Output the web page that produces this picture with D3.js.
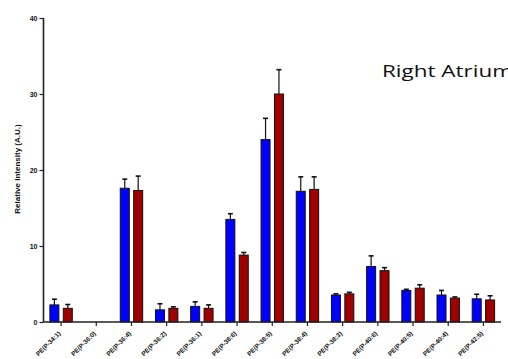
<!DOCTYPE html>
<html>
<head>
<meta charset="utf-8">
<script src="https://cdn.jsdelivr.net/npm/d3@7"></script>
<style>
html,body{margin:0;padding:0;background:#fff;}
svg{display:block;}
</style>
</head>
<body>
<svg id="chart" width="508" height="359"></svg>
<script>
const categories = ["PE(P-34:1)","PE(P-36:0)","PE(P-36:4)","PE(P-36:2)","PE(P-36:1)","PE(P-38:6)","PE(P-38:5)","PE(P-38:4)","PE(P-38:3)","PE(P-40:6)","PE(P-40:5)","PE(P-40:4)","PE(P-42:5)"];
const blueValues = [2.25, 0, 17.6, 1.6, 2.05, 13.5, 24.0, 17.2, 3.55, 7.3, 4.15, 3.55, 3.05];
const blueErrors = [0.75, 0, 1.2, 0.8, 0.6, 0.75, 2.8, 1.9, 0.15, 1.4, 0.15, 0.6, 0.6];
const redValues  = [1.8, 0, 17.3, 1.8, 1.8, 8.8, 30.0, 17.45, 3.7, 6.75, 4.45, 3.15, 2.9];
const redErrors  = [0.5, 0, 1.9, 0.2, 0.45, 0.35, 3.2, 1.65, 0.2, 0.4, 0.45, 0.15, 0.55];
const yTicks = [0, 10, 20, 30, 40];
const seriesColors = ["#0000ff", "#a00000"];
const title = "Right Atrium";
const yLabel = "Relative Intensity (A.U.)";

const svg = d3.select("#chart");
const x = d3.scaleBand().domain(categories).range([43.5, 501]).padding(0);
const y = d3.scaleLinear().domain([0, 40]).range([322, 18]);

const barW = 9, offset = 6.7;

const series = [
  {vals: blueValues, errs: blueErrors, color: seriesColors[0], dx: -offset},
  {vals: redValues, errs: redErrors, color: seriesColors[1], dx: offset}
];

const g = svg.append("g");
series.forEach(s => {
  categories.forEach((c, i) => {
    const v = s.vals[i];
    if (v <= 0) return;
    const cx = x(c) + x.bandwidth() / 2 + s.dx;
    const eTop = y(v + s.errs[i]);
    g.append("line").attr("x1", cx).attr("x2", cx).attr("y1", y(v)).attr("y2", eTop)
      .attr("stroke", "#111").attr("stroke-width", 1.2);
    g.append("line").attr("x1", cx - 2.5).attr("x2", cx + 2.5).attr("y1", eTop).attr("y2", eTop)
      .attr("stroke", "#111").attr("stroke-width", 1.6);
    g.append("rect").attr("x", cx - barW / 2).attr("y", y(v)).attr("width", barW).attr("height", y(0) - y(v))
      .attr("fill", s.color).attr("stroke", "#111").attr("stroke-width", 1);
  });
});

// Y axis
const yAxis = d3.axisLeft(y).tickValues(yTicks).tickSize(4).tickPadding(2);
const ya = svg.append("g").attr("transform", "translate(43.5,0)").call(yAxis);
ya.select(".domain").attr("stroke", "#222").attr("stroke-width", 1.6).attr("d", "M0,18V322");
ya.selectAll(".tick line").attr("stroke", "#222").attr("stroke-width", 1.2);
ya.selectAll(".tick text").attr("font-family", "Liberation Sans, Arial, sans-serif").attr("font-weight", "bold")
  .attr("font-size", 7).attr("fill", "#111");

// X axis
const xAxis = d3.axisBottom(x).tickSize(4).tickFormat("");
const xa = svg.append("g").attr("transform", "translate(0,322)").call(xAxis);
xa.select(".domain").attr("stroke", "#222").attr("stroke-width", 1.6).attr("d", "M43.5,0H501");
xa.selectAll(".tick line").attr("stroke", "#222").attr("stroke-width", 1.2);
xa.selectAll(".tick text").remove();

const labels = svg.append("g").attr("class", "xlabels");
categories.forEach(c => {
  const lx = x(c) + x.bandwidth() / 2;
  labels.append("g")
    .attr("transform", "translate(" + (lx) + ",334) rotate(-45)")
    .append("text")
    .attr("x", 0).attr("y", 0)
    .attr("font-family", "Liberation Sans, Arial, sans-serif").attr("font-weight", "bold")
    .attr("font-size", 6.4).attr("fill", "#111")
    .attr("text-anchor", "end")
    .text(c);
});

// Y label
svg.append("text").attr("transform", "translate(20,169) rotate(-90)")
  .attr("text-anchor", "middle").attr("font-family", "Liberation Sans, Arial, sans-serif")
  .attr("font-weight", "bold").attr("font-size", 8).attr("fill", "#111").text(yLabel);

// Title
svg.append("text").attr("x", 382).attr("y", 77)
  .attr("font-family", "Open Sans, sans-serif").attr("font-size", 16.5).attr("fill", "#111")
  .attr("textLength", 131).attr("lengthAdjust", "spacingAndGlyphs").text(title);
</script>
</body>
</html>
